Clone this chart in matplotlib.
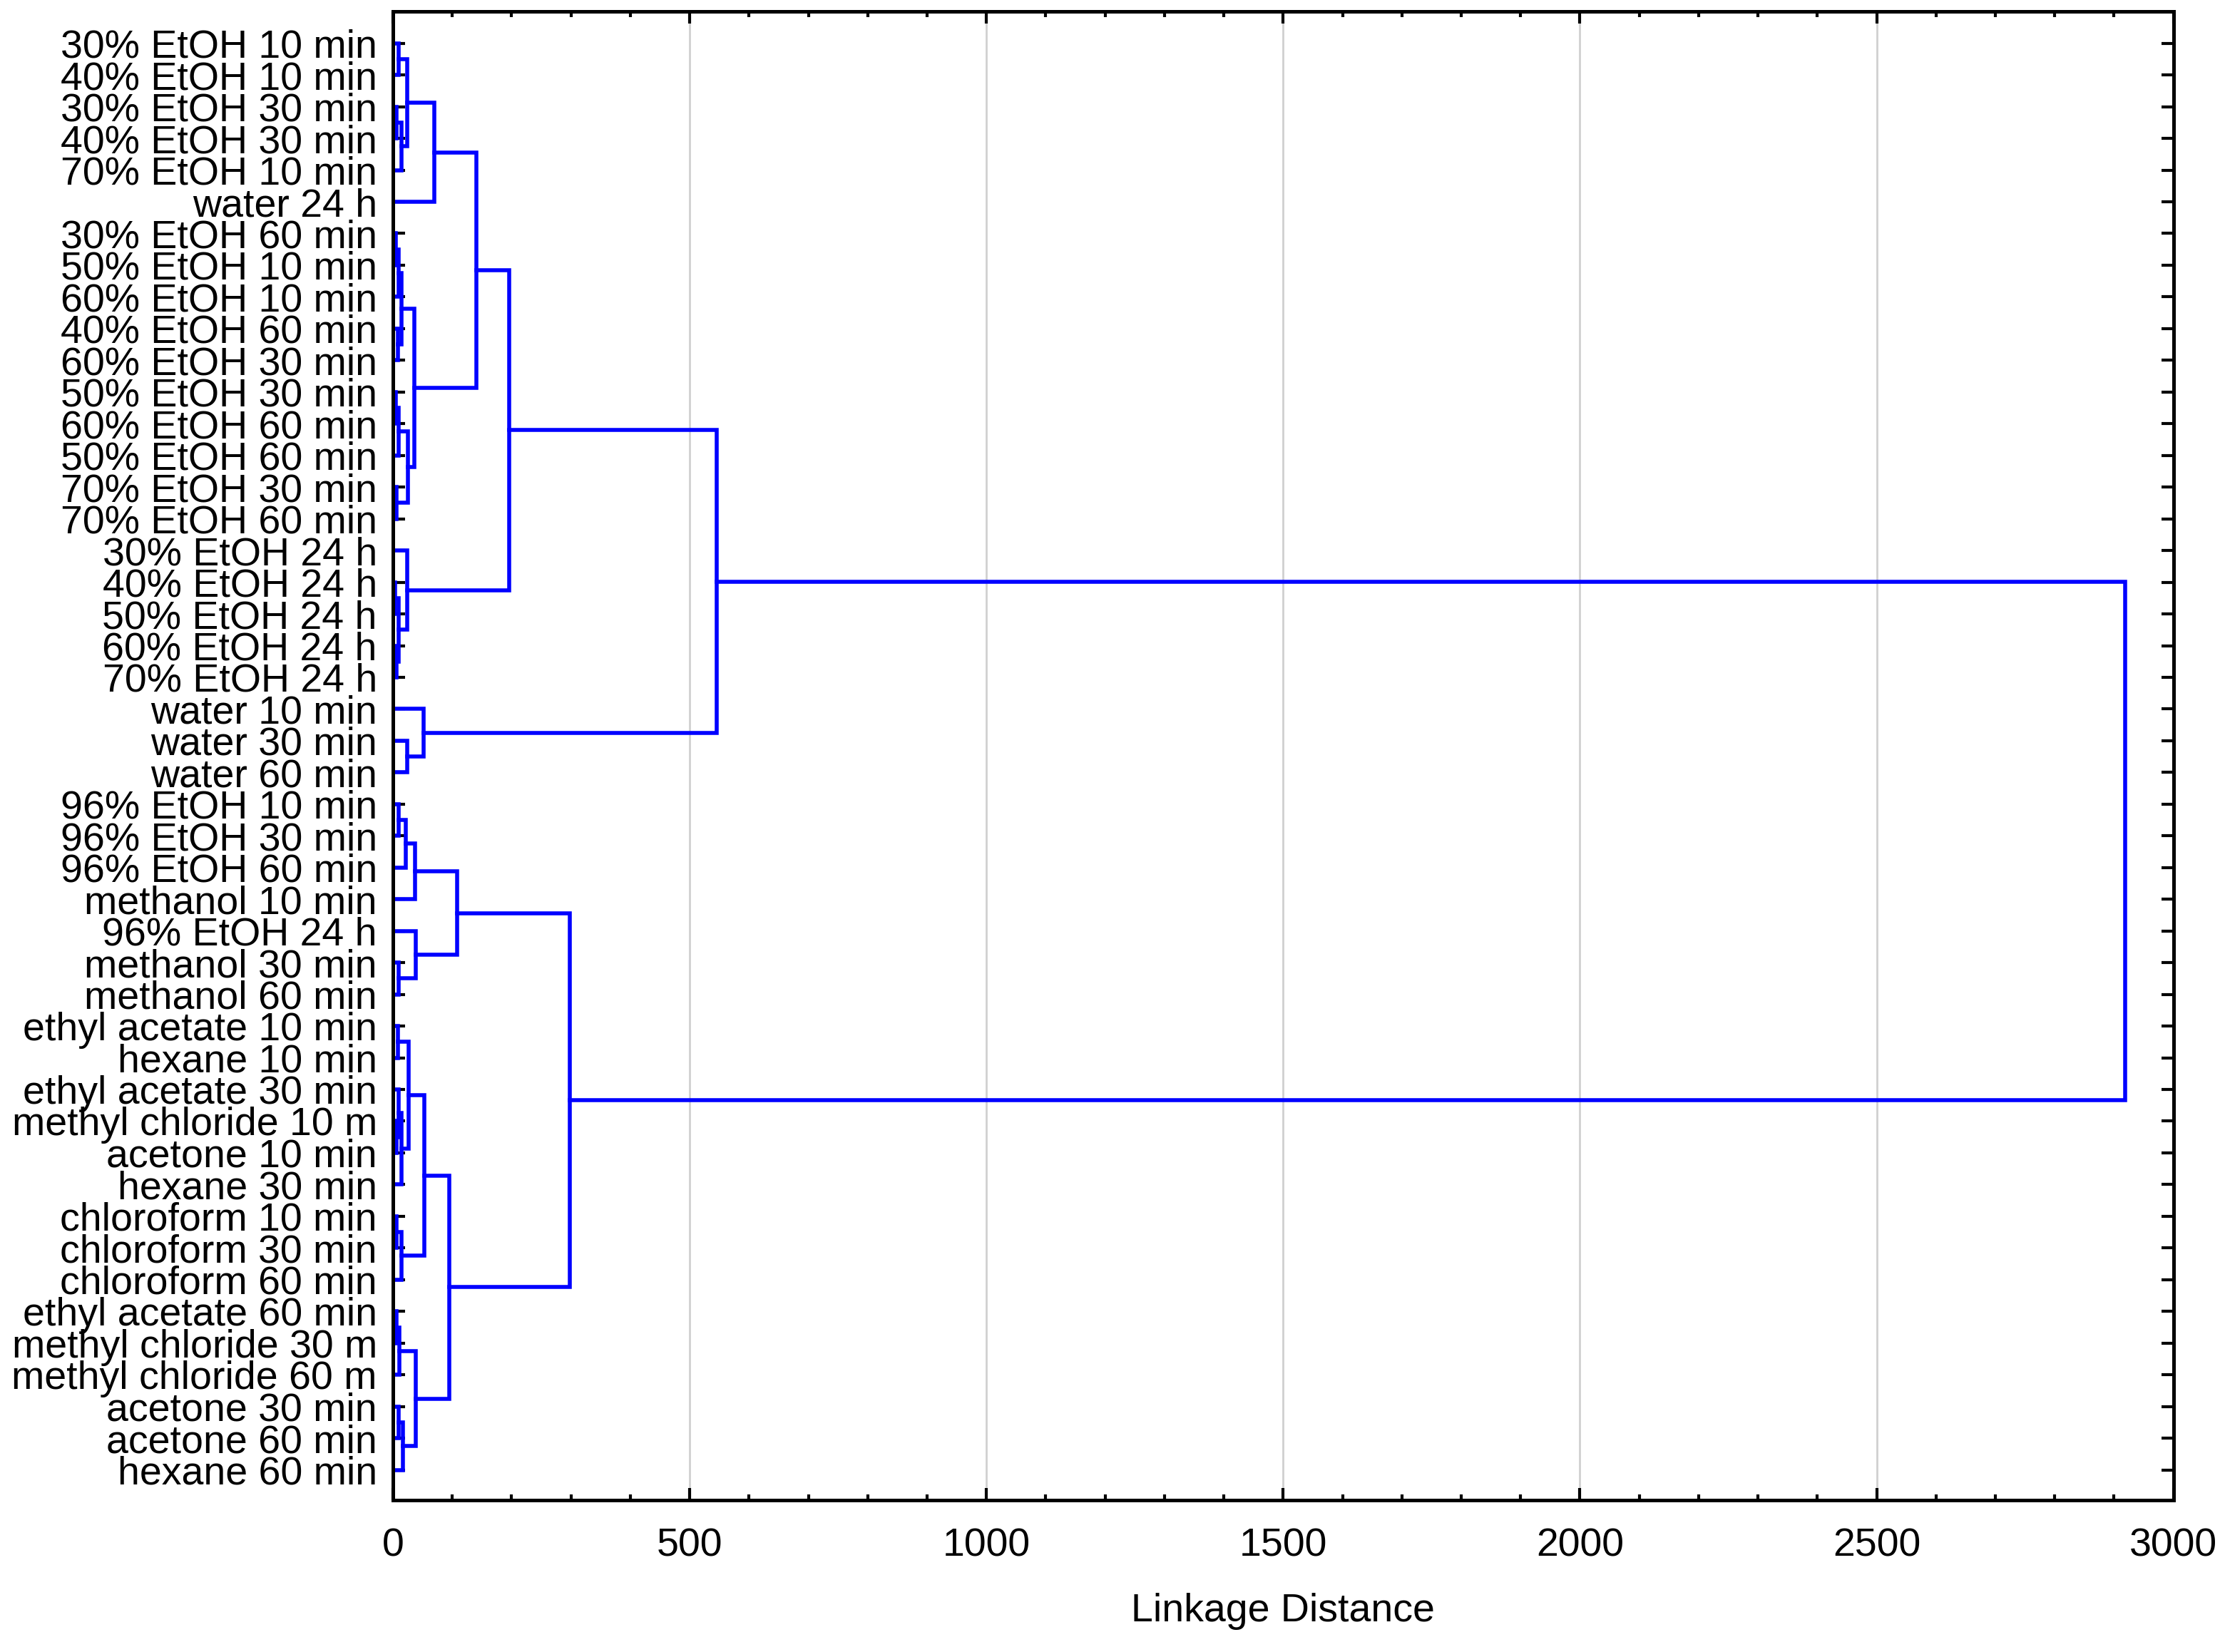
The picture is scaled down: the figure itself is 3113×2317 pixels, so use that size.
import matplotlib
matplotlib.use('Agg')
import matplotlib.pyplot as plt

plt.rcParams['font.family'] = ['Liberation Sans', 'DejaVu Sans']

lstLabels = ['30% EtOH 10 min', '40% EtOH 10 min', '30% EtOH 30 min', '40% EtOH 30 min',
             '70% EtOH 10 min', 'water 24 h', '30% EtOH 60 min', '50% EtOH 10 min',
             '60% EtOH 10 min', '40% EtOH 60 min', '60% EtOH 30 min', '50% EtOH 30 min',
             '60% EtOH 60 min', '50% EtOH 60 min', '70% EtOH 30 min', '70% EtOH 60 min',
             '30% EtOH 24 h', '40% EtOH 24 h', '50% EtOH 24 h', '60% EtOH 24 h',
             '70% EtOH 24 h', 'water 10 min', 'water 30 min', 'water 60 min',
             '96% EtOH 10 min', '96% EtOH 30 min', '96% EtOH 60 min', 'methanol 10 min',
             '96% EtOH 24 h', 'methanol 30 min', 'methanol 60 min', 'ethyl acetate 10 min',
             'hexane 10 min', 'ethyl acetate 30 min', 'methyl chloride 10 m', 'acetone 10 min',
             'hexane 30 min', 'chloroform 10 min', 'chloroform 30 min', 'chloroform 60 min',
             'ethyl acetate 60 min', 'methyl chloride 30 m', 'methyl chloride 60 m',
             'acetone 30 min', 'acetone 60 min', 'hexane 60 min']

# merges: (name, left, right, linkage distance); ints are leaf rows
lstMerges = [
   ('c01', 0, 1, 10), ('c23', 2, 3, 6), ('c234', 'c23', 4, 14), ('c0_4', 'c01', 'c234', 24),
   ('c0_5', 'c0_4', 5, 70),
   ('c67', 6, 7, 5), ('c678', 'c67', 8, 10), ('c9_10', 9, 10, 9), ('c6_10', 'c678', 'c9_10', 15),
   ('c11_12', 11, 12, 5), ('c11_13', 'c11_12', 13, 10), ('c14_15', 14, 15, 6),
   ('c11_15', 'c11_13', 'c14_15', 25), ('c6_15', 'c6_10', 'c11_15', 36),
   ('cA', 'c0_5', 'c6_15', 141),
   ('c17_18', 17, 18, 4), ('c19_20', 19, 20, 6), ('c17_20', 'c17_18', 'c19_20', 10),
   ('c16_20', 16, 'c17_20', 24), ('cB', 'cA', 'c16_20', 196),
   ('c22_23', 22, 23, 24), ('cW', 21, 'c22_23', 52), ('cTop', 'cB', 'cW', 545),
   ('c24_25', 24, 25, 10), ('c24_26', 'c24_25', 26, 22), ('c24_27', 'c24_26', 27, 37),
   ('c29_30', 29, 30, 10), ('c28_30', 28, 'c29_30', 38), ('cMeth', 'c24_27', 'c28_30', 108),
   ('c31_32', 31, 32, 8), ('c34_35', 34, 35, 6), ('c33_35', 33, 'c34_35', 10),
   ('c33_36', 'c33_35', 36, 15), ('c31_36', 'c31_32', 'c33_36', 27),
   ('c37_38', 37, 38, 6), ('c37_39', 'c37_38', 39, 15), ('c31_39', 'c31_36', 'c37_39', 53),
   ('c40_41', 40, 41, 6), ('c40_42', 'c40_41', 42, 11), ('c43_44', 43, 44, 10),
   ('c43_45', 'c43_44', 45, 17), ('c40_45', 'c40_42', 'c43_45', 39),
   ('c31_45', 'c31_39', 'c40_45', 95), ('cBot', 'cMeth', 'c31_45', 298),
   ('root', 'cTop', 'cBot', 2919),
]

fig = plt.figure(figsize=(15.565, 11.585), dpi=200)
ax = fig.add_axes([0.177, 0.092, 0.802, 0.901])

dicNodes = {}
def node(k):
   if isinstance(k, int):
      return (0.0, float(k))
   return dicNodes[k]

for (strName, l, r, h) in lstMerges:
   (hl, yl) = node(l)
   (hr, yr) = node(r)
   ax.plot([hl, h, h, hr], [yl, yl, yr, yr], color='#0000ff', lw=2.0, solid_joinstyle='miter')
   dicNodes[strName] = (h, (yl + yr) / 2)

ax.set_xlim(0, 3000)
ax.set_ylim(45.95, -1.0)
ax.set_yticks(range(len(lstLabels)))
ax.set_yticklabels(lstLabels, fontsize=20)
ax.set_xticks(range(0, 3001, 500))
ax.set_xticks(range(0, 3001, 100), minor=True)
ax.tick_params(axis='x', labelsize=20, pad=14)
ax.tick_params(which='both', direction='in', top=True, right=True, width=1.5)
ax.tick_params(which='major', length=6)
ax.tick_params(which='minor', length=3)
ax.tick_params(axis='y', which='major', length=6, direction='in', pad=8)
ax.grid(axis='x', color='#d0d0d0', lw=1)
ax.set_axisbelow(True)
for s in ax.spines.values():
   s.set_linewidth(1.8)
ax.set_xlabel('Linkage Distance', fontsize=20, labelpad=14)

fig.savefig('out.png', dpi=200)
